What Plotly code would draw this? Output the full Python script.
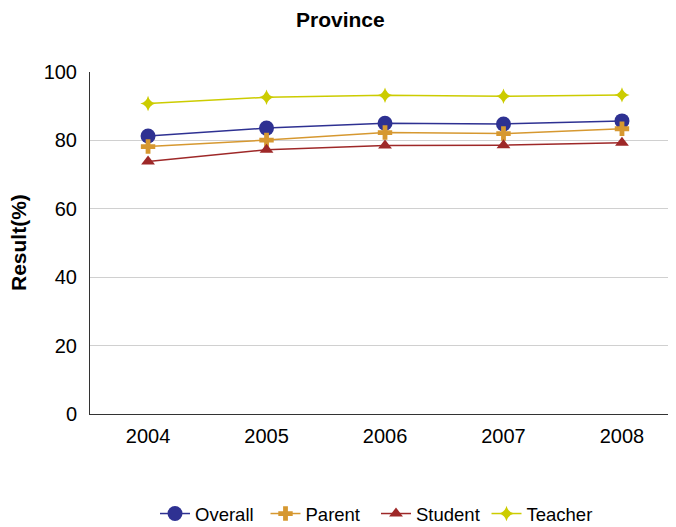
import plotly.graph_objects as go

years = ["2004", "2005", "2006", "2007", "2008"]
overall = [81.3, 83.6, 85.0, 84.8, 85.7]
parent = [78.2, 80.1, 82.3, 82.0, 83.4]
student = [73.8, 77.3, 78.5, 78.6, 79.3]
teacher = [90.8, 92.6, 93.2, 92.9, 93.3]

series = [
    ("Overall", overall, "rgb(46,49,146)", "circle", 15),
    ("Parent", parent, "rgb(214,152,48)", "cross", 12),
    ("Student", student, "rgb(158,40,40)", "triangle-up", 12),
    ("Teacher", teacher, "rgb(204,204,0)", "star-diamond", 11),
]

fig = go.Figure()
for name, vals, color, sym, size in series:
    fig.add_trace(go.Scatter(
        x=years, y=vals, name=name, mode="lines+markers",
        line=dict(color=color, width=1.5),
        marker=dict(symbol=sym, size=size, color=color, line=dict(width=0)),
    ))

font = "Liberation Sans, Arial, sans-serif"
W, H = 676, 560
L, T, R = 82, 64, 8
B = H - 406
plot_h = H - T - B
plot_w = W - L - R
title_cx = 340 - 8  # figure px
fig.update_layout(
    width=W, height=H,
    margin=dict(l=L, r=R, t=T, b=B),
    paper_bgcolor="white", plot_bgcolor="white",
    font=dict(family=font, color="black"),
    xaxis=dict(type="category", range=[-0.49, 4.456], showgrid=False, showline=True,
               linecolor="#333", linewidth=1, ticks="", tickfont=dict(size=20),
               ticklabelstandoff=4, zeroline=False),
    yaxis=dict(range=[0, 100], tickvals=[0, 20, 40, 60, 80, 100], showgrid=True,
               gridcolor="#d0d0d0", gridwidth=1, showline=True, linecolor="#333",
               linewidth=1, ticks="", tickfont=dict(size=20), ticklabelstandoff=8,
               zeroline=False),
    annotations=[
        dict(text="<b>Province</b>", xref="paper", yref="paper",
             x=(title_cx - L) / plot_w, y=1, yshift=T - 11, xanchor="center",
             yanchor="middle", showarrow=False,
             font=dict(size=21, family=font, color="black")),
        dict(text="<b>Result(%)</b>", xref="paper", yref="paper", x=0, y=0.5,
             xshift=-(L - 10), xanchor="center", yanchor="middle", textangle=-90,
             showarrow=False, font=dict(size=21, family=font, color="black")),
    ],
    legend=dict(orientation="h", x=0.5 - 7 / plot_w, xanchor="center", y=-(506 - 406) / plot_h,
                yanchor="middle", font=dict(size=18.5), bgcolor="rgba(0,0,0,0)",
                entrywidth=65.5),
    showlegend=True,
)
fig.write_html("out.html")
